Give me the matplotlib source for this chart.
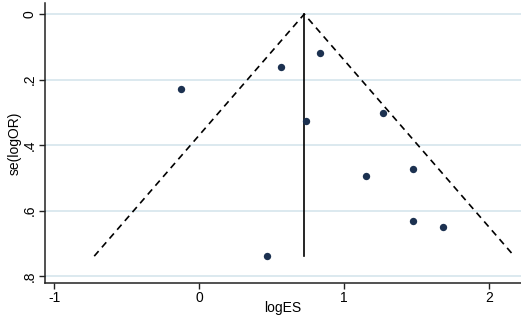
import matplotlib
matplotlib.use("Agg")
import matplotlib.pyplot as plt
import numpy as np

plt.rcParams['font.family'] = ['Liberation Sans', 'DejaVu Sans']

# study effect sizes and standard errors
log_es = [-0.128, 0.563, 0.830, 0.734, 1.269, 1.150, 1.476, 1.472, 1.681, 0.469]
se_log_or = [0.230, 0.160, 0.118, 0.325, 0.301, 0.493, 0.474, 0.633, 0.651, 0.739]
pooled = 0.724

xticks = [-1, 0, 1, 2]
yticks = [0, 0.2, 0.4, 0.6, 0.8]
ytick_labels = ["0", ".2", ".4", ".6", ".8"]

fig = plt.figure(figsize=(5.21, 3.2), dpi=100)
ax = fig.add_axes([45 / 521, 1 - 283 / 320, 1 - 45 / 521, (283 - 3) / 320])

se_max = max(se_log_or)
# pseudo 95% confidence limits
ax.plot([pooled - 1.96 * se_max, pooled, pooled + 1.96 * se_max],
        [se_max, 0, se_max], color="black", lw=1.2, ls=(0, (4, 3)), zorder=3)
ax.plot([pooled, pooled], [0, se_max], color="black", lw=1.2, zorder=3)

ax.scatter(log_es, se_log_or, s=28, color="#1c3150", zorder=4, linewidths=0)

ax.set_xlim(-1.064, 2.219)
ax.set_ylim(0.821, -0.034)
ax.set_xticks(xticks)
ax.set_xticklabels([str(t) for t in xticks])
ax.set_yticks(yticks)
ax.set_yticklabels(ytick_labels, rotation=90, va="center")

ax.yaxis.grid(True, color="#d6e5ec", lw=1.2)
ax.set_axisbelow(True)

for s in ["top", "right"]:
    ax.spines[s].set_visible(False)
for s in ["left", "bottom"]:
    ax.spines[s].set_linewidth(1.1)
    ax.spines[s].set_color("#222222")

ax.tick_params(axis="both", length=4, width=1, labelsize=10, color="#222222")
ax.tick_params(axis="y", pad=2)
ax.tick_params(axis="x", pad=2)

ax.set_xlabel("logES", fontsize=10, labelpad=-3)
ax.set_ylabel("se(logOR)", fontsize=10, labelpad=1)

fig.savefig("out.png", dpi=100)
